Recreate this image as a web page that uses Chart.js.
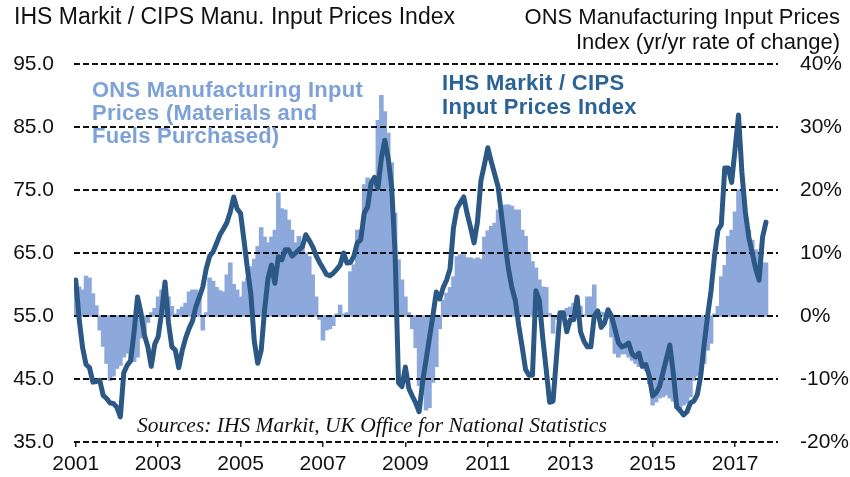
<!DOCTYPE html>
<html>
<head>
<meta charset="utf-8">
<script src="https://cdn.jsdelivr.net/npm/chart.js@4.4.1/dist/chart.umd.min.js"></script>
<style>
  html, body { margin: 0; padding: 0; background: #fff; }
  #wrap { position: relative; width: 850px; height: 477px; overflow: hidden; }
  #c { position: absolute; left: 0; top: 0; }
  .txt { position: absolute; white-space: nowrap; font-family: "Liberation Sans", Arial, sans-serif; }
  .ttl { color: #111; line-height: 25px; }
  .ons { font-size: 22px; letter-spacing: 0.25px; font-weight: bold; color: #7EA1D8; line-height: 23px; }
  .ihs { font-size: 22px; letter-spacing: 0.3px; font-weight: bold; color: #2B6396; line-height: 24px; }
  .src { font-family: "Liberation Serif", "Times New Roman", serif; font-style: italic; font-size: 21.5px; color: #111; }
</style>
</head>
<body>
<div id="wrap">
  <canvas id="c" width="850" height="477"></canvas>
  <div class="txt ttl" style="left:14px; top:4px; font-size:23px;">IHS Markit / CIPS Manu. Input Prices Index</div>
  <div class="txt ttl" style="right:10px; top:4px; font-size:22px; text-align:right;">ONS Manufacturing Input Prices<br>Index (yr/yr rate of change)</div>
  <div class="txt ons" style="left:92px; top:78px;">ONS Manufacturing Input<br>Prices (Materials and<br>Fuels Purchased)</div>
  <div class="txt ihs" style="left:442px; top:71px;">IHS Markit / CIPS<br>Input Prices Index</div>
  <div class="txt src" style="left:137px; top:413px;">Sources: IHS Markit, UK Office for National Statistics</div>
</div>
<script>
// ---- data (monthly, starting January 2001) ----
const startYear = 2001;
const tickYears = [2001, 2003, 2005, 2007, 2009, 2011, 2013, 2015, 2017];
const leftTicks = [35, 45, 55, 65, 75, 85, 95];
const rightTicks = [-20, -10, 0, 10, 20, 30, 40];

// ONS manufacturing input prices, yr/yr % change (bars, right axis)
const onsInputYoY = [
  5.4, 4.6, 4.1, 6.3, 6.0, 3.5, 1.6, -2.2, -4.8, -7.5, -10.2, -9.5,          // 2001
  -8.3, -7.8, -6.5, -5.9, -7.0, -7.2, -6.5, -3.5, -2.5, -1.0, 0.5, 1.2,      // 2002
  3.0, 4.1, 3.8, 3.0, 1.5, 0.3, 1.0, 1.4, 2.0, 3.8, 4.1, 4.1,                // 2003
  3.5, -2.2, 0.5, 6.0, 5.5, 4.5, 4.0, 3.8, 6.5, 8.4, 5.0, 4.1,               // 2004
  3.0, 5.4, 6.0, 7.8, 9.0, 11.0, 14.0, 12.5, 11.6, 12.5, 13.6, 19.5,         // 2005
  17.0, 16.8, 15.2, 13.6, 11.6, 12.6, 11.0, 10.0, 9.4, 6.5, 3.0, -0.5,       // 2006
  -3.8, -2.2, -2.0, -1.5, 0.3, 1.7, 0.3, 0.5, 7.0, 8.1, 13.6, 13.6,          // 2007
  20.8, 21.9, 21.5, 22.0, 31.0, 35.0, 32.4, 29.0, 24.3, 16.3, 8.9, 5.7,      // 2008
  3.0, 0.5, -2.0, -5.0, -11.0, -12.5, -14.9, -14.5, -10.5, -8.0, -2.0, 2.5,  // 2009
  3.6, 4.5, 6.2, 9.4, 9.7, 9.7, 9.2, 9.2, 9.0, 9.2, 9.0, 12.5,               // 2010
  13.5, 14.2, 14.7, 16.8, 16.8, 17.6, 17.6, 17.4, 16.8, 16.8, 13.6, 12.6,    // 2011
  10.0, 8.6, 7.6, 5.7, 4.6, 4.5, 0.4, -2.7, -0.5, 0.2, 0.5, 1.2,             // 2012
  1.4, 2.0, 2.5, 1.5, 0.2, 3.0, 3.0, 4.9, 1.0, 0.6, 0.5, -0.4,               // 2013
  -3.3, -5.9, -6.5, -6.0, -6.0, -6.5, -7.0, -7.5, -8.0, -8.2, -8.6, -10.7,   // 2014
  -14.1, -13.6, -13.0, -12.8, -12.5, -13.0, -13.5, -14.6, -14.6, -14.1, -13.8, -12.8, // 2015
  -10.2, -9.5, -9.0, -7.5, -5.4, -4.3, 0.3, 1.5, 6.2, 8.0, 12.6, 13.6,       // 2016
  16.5, 20.0, 20.0, 15.2, 13.6, 12.0, 10.5, 10.0, 8.4, 8.4                   // 2017 (Jan-Oct)
];

// IHS Markit / CIPS manufacturing input prices index (line, left axis)
const cipsInputPrices = [
  60.7, 54.5, 50.0, 47.3, 46.8, 44.5, 44.6, 44.8, 42.4, 41.9, 41.2, 41.1,    // 2001
  40.5, 39.0, 46.0, 47.2, 47.9, 52.5, 58.0, 55.5, 52.0, 50.1, 47.0, 50.5,    // 2002
  51.7, 55.5, 60.4, 54.0, 50.1, 49.6, 46.8, 49.5, 51.5, 53.0, 54.2, 56.5,    // 2003
  58.0, 59.6, 62.5, 64.5, 65.2, 66.5, 67.9, 68.8, 69.8, 71.5, 73.9, 72.0,    // 2004
  71.3, 67.0, 62.5, 58.5, 51.0, 47.5, 49.5, 56.0, 61.0, 63.1, 60.2, 64.4,    // 2005
  63.9, 65.5, 65.5, 64.5, 65.0, 65.5, 66.0, 67.9, 67.0, 66.0, 64.6, 63.5,    // 2006
  62.6, 61.6, 61.4, 61.8, 62.4, 63.1, 65.0, 63.4, 63.5, 64.5, 66.6, 67.1,    // 2007
  71.3, 72.3, 76.1, 77.0, 75.3, 80.0, 82.9, 80.0, 75.5, 65.0, 44.4, 43.8,    // 2008
  46.9, 43.5, 42.3, 41.2, 39.8, 44.5, 48.0, 51.5, 55.0, 58.8, 57.7, 59.5,    // 2009
  60.7, 62.5, 69.0, 72.0, 73.0, 73.9, 71.2, 69.0, 66.6, 70.0, 76.5, 79.0,    // 2010
  81.7, 79.5, 77.5, 75.5, 71.0, 66.5, 62.5, 59.5, 57.5, 53.5, 50.1, 46.5,    // 2011
  45.6, 45.6, 59.0, 57.5, 51.5, 46.5, 41.3, 41.5, 48.5, 55.5, 55.5, 52.5,    // 2012
  54.4, 54.4, 58.0, 52.5, 51.0, 50.1, 50.1, 55.0, 55.8, 53.2, 53.9, 56.0,    // 2013
  55.0, 53.0, 50.8, 50.1, 50.3, 50.7, 49.0, 48.5, 49.1, 47.0, 47.3, 45.5,    // 2014
  42.3, 42.8, 43.8, 46.0, 48.2, 50.4, 46.0, 40.6, 40.0, 39.3, 39.8, 41.2,    // 2015
  41.5, 42.5, 45.5, 50.5, 55.0, 59.0, 64.5, 68.6, 69.5, 78.5, 78.5, 76.2,    // 2016
  81.5, 86.9, 77.7, 71.5, 67.5, 65.0, 62.5, 60.7, 67.5, 69.9                 // 2017 (Jan-Oct)
];

// ---- build library data (x = months since Jan 2001) ----
const barPoints = onsInputYoY.map((v, i) => ({ x: i, y: v }));
const linePoints = cipsInputPrices.map((v, i) => ({ x: i, y: v }));

const gridOverBars = {
  id: 'gridOverBars',
  afterDatasetDraw(chart, args) {
    if (args.index === 0) chart.scales.y.drawGrid(chart.chartArea);
  }
};

const tickFont = { family: "'Liberation Sans', Arial, sans-serif", size: 21 };

new Chart(document.getElementById('c'), {
  type: 'bar',
  data: {
    datasets: [
      {
        type: 'bar',
        label: 'ONS Manufacturing Input Prices (Materials and Fuels Purchased)',
        data: barPoints,
        yAxisID: 'y2',
        backgroundColor: '#8DA9DB',
        borderWidth: 0,
        barPercentage: 1,
        categoryPercentage: 1,
        inflateAmount: 0.6,
        order: 2
      },
      {
        type: 'line',
        label: 'IHS Markit / CIPS Input Prices Index',
        data: linePoints,
        yAxisID: 'y',
        borderColor: '#2C5886',
        borderWidth: 5,
        pointRadius: 0,
        tension: 0,
        borderJoinStyle: 'round',
        borderCapStyle: 'round',
        fill: false,
        order: 1
      }
    ]
  },
  options: {
    responsive: false,
    animation: false,
    devicePixelRatio: 1,
    layout: { padding: { top: 64, bottom: 0, left: 0, right: 0 } },
    plugins: { legend: { display: false }, tooltip: { enabled: false } },
    scales: {
      x: {
        type: 'linear',
        offset: false,
        min: -0.5,
        max: 204.5,
        afterBuildTicks: (s) => { s.ticks = tickYears.map(y => ({ value: (y - startYear) * 12 })); },
        afterFit: (s) => { s.height = 35; },
        ticks: {
          autoSkip: false, maxRotation: 0, padding: 5,
          color: '#111', font: tickFont,
          callback: (v) => String(startYear + Math.round(v / 12))
        },
        grid: { offset: false, drawOnChartArea: false, drawTicks: true, tickLength: 5, color: '#222', lineWidth: 1.5 },
        border: { display: false }
      },
      y: {
        position: 'left',
        min: 35, max: 95,
        afterBuildTicks: (s) => { s.ticks = leftTicks.map(v => ({ value: v })); },
        afterFit: (s) => { s.width = 74; },
        ticks: { padding: 20, color: '#111', font: tickFont, callback: (v) => Number(v).toFixed(1) },
        grid: { color: '#111', lineWidth: 2, drawTicks: false },
        border: { display: false, dash: [6, 3] }
      },
      y2: {
        position: 'right',
        min: -20, max: 40,
        afterBuildTicks: (s) => { s.ticks = rightTicks.map(v => ({ value: v })); },
        afterFit: (s) => { s.width = 72; },
        ticks: { padding: 22, color: '#111', font: tickFont, callback: (v) => v + '%' },
        grid: { display: false, drawOnChartArea: false, drawTicks: false },
        border: { display: false }
      }
    }
  },
  plugins: [gridOverBars]
});
</script>
</body>
</html>
